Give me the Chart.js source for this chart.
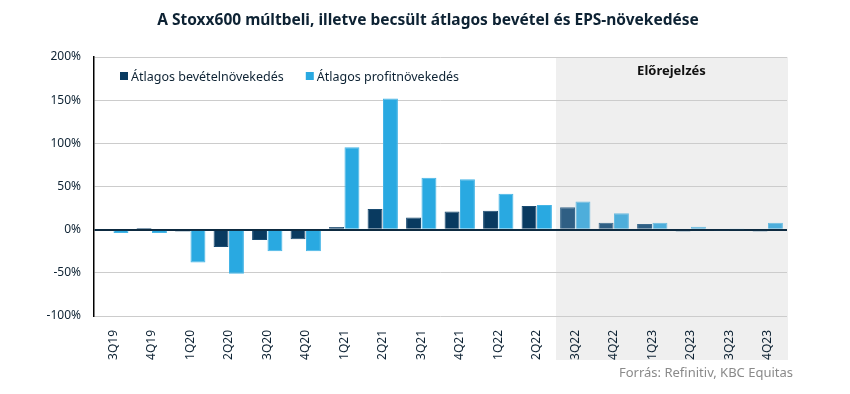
<!DOCTYPE html>
<html><head><meta charset="utf-8">
<script src="https://cdn.jsdelivr.net/npm/chart.js@4.4.1/dist/chart.umd.min.js"></script>
<style>html,body{margin:0;padding:0;background:#fff}#wrap{width:850px;height:394px;position:relative}</style>
</head><body><div id="wrap"><canvas id="c" width="850" height="394"></canvas></div>
<script>
const categories = ['3Q19','4Q19','1Q20','2Q20','3Q20','4Q20','1Q21','2Q21','3Q21','4Q21','1Q22','2Q22','3Q22','4Q22','1Q23','2Q23','3Q23','4Q23'];
const revenueGrowth = [1, 2, -2, -20, -12, -11, 3, 24, 14, 21, 22, 27.5, 26, 8, 6.5, -2, -1, -2];
const profitGrowth = [-4, -4, -38, -51, -25, -25, 95.5, 152, 60, 58.5, 41.5, 28.5, 32.5, 19, 8, 3.5, 0.5, 8];
const forecastStart = 12;
const yTicks = [-100, -50, 0, 50, 100, 150, 200];

const FONT = '"Noto Sans", "DejaVu Sans", sans-serif';
const DARK = '#093a60', LIGHT = '#29a9e1', DARK_F = '#2f5f84', LIGHT_F = '#4eaedb';
const colorsFor = (a, b) => categories.map((_, i) => i >= forecastStart ? b : a);

const bandPlugin = {
  id: 'band',
  beforeDraw(chart) {
    const {ctx, chartArea, scales} = chart;
    const x = scales.x;
    const step = x.getPixelForValue(1) - x.getPixelForValue(0);
    const left = x.getPixelForValue(forecastStart) - step / 2;
    ctx.save();
    ctx.fillStyle = '#efefef';
    ctx.fillRect(left, chartArea.top, chartArea.right - left + 1, chartArea.bottom - chartArea.top + 44);
    ctx.restore();
  },
  afterDraw(chart) {
    const {ctx, chartArea, scales} = chart;
    const x = scales.x;
    const step = x.getPixelForValue(1) - x.getPixelForValue(0);
    const left = x.getPixelForValue(forecastStart) - step / 2;
    ctx.save();
    ctx.fillStyle = '#0d2233';
    ctx.font = 'bold 15.5px ' + FONT;
    ctx.textAlign = 'center';
    ctx.textBaseline = 'alphabetic';
    ctx.fillText('A Stoxx600 múltbeli, illetve becsült átlagos bevétel és EPS-növekedése', 428, 25);
    ctx.font = 'bold 13px ' + FONT;
    ctx.fillStyle = '#111';
    ctx.fillText('Előrejelzés', (left + chartArea.right) / 2, 75);
    // legend
    ctx.font = '12.5px ' + FONT;
    ctx.textAlign = 'left';
    let lx = 120;
    chart.data.datasets.forEach(ds => {
      ctx.fillStyle = ds.legendColor;
      ctx.fillRect(lx, 72, 8, 8);
      ctx.fillStyle = '#0d2233';
      ctx.fillText(ds.label, lx + 11, 81);
      lx += 11 + ctx.measureText(ds.label).width + 22;
    });
    ctx.fillStyle = '#8a8a8a';
    ctx.textAlign = 'right';
    ctx.font = '13px ' + FONT;
    ctx.fillText('Forrás: Refinitiv, KBC Equitas', 793, 377);
    ctx.restore();
  }
};

new Chart(document.getElementById('c'), {
  type: 'bar',
  data: {
    labels: categories,
    datasets: [
      {label: 'Átlagos bevételnövekedés', data: revenueGrowth, backgroundColor: colorsFor(DARK, DARK_F), borderColor: colorsFor('#1a4c72', '#3d6b8e'), borderWidth: 1, legendColor: DARK, categoryPercentage: 0.8, barPercentage: 0.97},
      {label: 'Átlagos profitnövekedés', data: profitGrowth, backgroundColor: colorsFor(LIGHT, LIGHT_F), borderColor: colorsFor('#45b5e6', '#6abbe0'), borderWidth: 1, legendColor: LIGHT, categoryPercentage: 0.8, barPercentage: 0.97}
    ]
  },
  options: {
    responsive: false,
    animation: false,
    layout: {padding: {left: 0, right: 63, top: 57, bottom: 34}},
    plugins: {legend: {display: false}, title: {display: false}, tooltip: {enabled: false}},
    scales: {
      x: {
        grid: {display: false},
        border: {display: false},
        ticks: {minRotation: 90, maxRotation: 90, padding: 6, color: '#0d2233', font: {family: FONT, size: 12}, autoSkip: false},
        afterFit(s) { s.height = 44; }
      },
      y: {
        min: -100, max: 200,
        afterBuildTicks(s) { s.ticks = yTicks.map(v => ({value: v})); },
        ticks: {callback: v => v + '%', color: '#0d2233', font: {family: FONT, size: 12}, padding: 13},
        grid: {
          color: c => c.tick && c.tick.value === 0 ? '#0d2a40' : '#cccccc',
          lineWidth: c => c.tick && c.tick.value === 0 ? 2 : 1,
          drawTicks: false
        },
        border: {display: true, color: '#000', width: 1.5},
        afterFit(s) { s.width = 94; }
      }
    }
  },
  plugins: [bandPlugin]
});
</script></body></html>
